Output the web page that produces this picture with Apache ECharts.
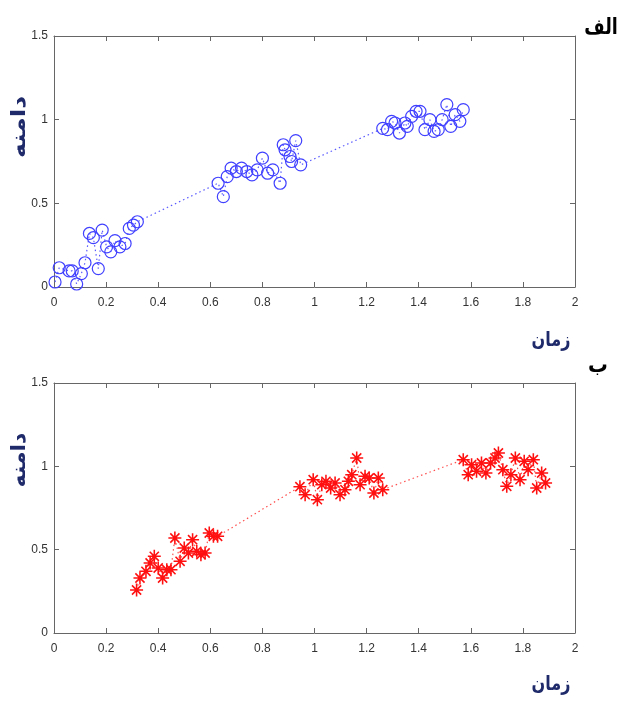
<!DOCTYPE html>
<html><head><meta charset="utf-8">
<script src="https://cdn.jsdelivr.net/npm/echarts@6/dist/echarts.min.js"></script>
<style>html,body{margin:0;padding:0;background:#fff}#c{width:619px;height:707px}</style>
</head><body><div id="c"></div>
<script>
var xTicks = [0, 0.2, 0.4, 0.6, 0.8, 1, 1.2, 1.4, 1.6, 1.8, 2];
var yTicks = [0, 0.5, 1, 1.5];
var topX = [0.004,0.02,0.058,0.07,0.087,0.105,0.119,0.136,0.151,0.17,0.185,0.202,0.218,0.234,0.253,0.273,0.289,0.305,0.32,
  0.63,0.65,0.665,0.68,0.70,0.72,0.74,0.76,0.78,0.80,0.82,0.84,0.868,0.88,0.887,0.906,0.912,0.928,0.947,
  1.262,1.28,1.296,1.309,1.326,1.347,1.356,1.373,1.39,1.405,1.424,1.443,1.459,1.475,1.49,1.508,1.523,1.54,1.558,1.571];
var topY = [0.03,0.115,0.096,0.096,0.018,0.08,0.145,0.32,0.295,0.11,0.34,0.24,0.21,0.277,0.24,0.26,0.35,0.37,0.39,
  0.62,0.54,0.66,0.71,0.69,0.71,0.69,0.67,0.70,0.77,0.68,0.70,0.62,0.85,0.82,0.78,0.75,0.875,0.73,
  0.948,0.94,0.99,0.98,0.92,0.98,0.96,1.02,1.05,1.05,0.94,1.0,0.93,0.94,1.0,1.09,0.96,1.03,0.99,1.06];
var botX = [0.317,0.33,0.353,0.369,0.385,0.40,0.417,0.433,0.449,0.464,0.484,0.50,0.516,0.532,0.548,0.564,0.58,0.596,0.612,0.628,
  0.944,0.964,0.995,1.011,1.028,1.044,1.062,1.079,1.098,1.117,1.13,1.143,1.162,1.175,1.194,1.21,1.228,1.245,1.262,
  1.571,1.59,1.603,1.622,1.641,1.658,1.676,1.693,1.706,1.723,1.738,1.754,1.771,1.789,1.805,1.82,1.84,1.853,1.872,1.887];
var botY = [0.258,0.33,0.37,0.42,0.46,0.39,0.33,0.38,0.38,0.57,0.43,0.51,0.48,0.56,0.49,0.47,0.48,0.60,0.58,0.58,
  0.878,0.83,0.92,0.80,0.89,0.91,0.87,0.90,0.83,0.86,0.91,0.95,1.05,0.89,0.94,0.93,0.84,0.93,0.86,
  1.04,0.95,1.01,0.97,1.02,0.96,1.02,1.05,1.08,0.98,0.88,0.95,1.05,0.92,1.03,0.98,1.04,0.87,0.96,0.90];
var panelLabels = ['الف', 'ب'];
var xName = 'زمان';
var yName = 'دامنه';

function pairs(xs, ys){ return xs.map(function(x,i){ return [x, ys[i]]; }); }
var star = 'path://M-1.2,-10L1.2,-10L1.2,10L-1.2,10Z M-10,-1.2L10,-1.2L10,1.2L-10,1.2Z M-7.9,-6.2L-6.2,-7.9L7.9,6.2L6.2,7.9Z M6.2,-7.9L7.9,-6.2L-6.2,7.9L-7.9,6.2Z';

var axisCol = '#666';
function xAx(grid, pos, show){
  return {type:'value', gridIndex:grid, position:pos, min:0, max:2, interval:0.2,
    axisLine:{show:true, onZero:false, lineStyle:{color:axisCol, width:1}},
    axisTick:{show:true, inside:true, length:5, lineStyle:{color:axisCol}},
    axisLabel:{show:show, margin:10, formatter:function(v){return String(Math.round(v*10)/10);}, color:'#333', fontFamily:'Liberation Sans, Arial', fontSize:12},
    splitLine:{show:false}};
}
function yAx(grid, pos, show){
  return {type:'value', gridIndex:grid, position:pos, min:0, max:1.5, interval:0.5,
    axisLine:{show:true, onZero:false, lineStyle:{color:axisCol, width:1}},
    axisTick:{show:true, inside:true, length:5, lineStyle:{color:axisCol}},
    axisLabel:{show:show, margin:6, formatter:function(v){return String(v);}, color:'#333', fontFamily:'Liberation Sans, Arial', fontSize:12},
    splitLine:{show:false}};
}
var nameFont = 'bold 20px "DejaVu Sans"';
var nameCol = '#1f2a6b';
var chart = echarts.init(document.getElementById('c'), null, {renderer:'canvas'});
chart.setOption({
  animation:false,
  backgroundColor:'#fff',
  grid:[{left:54, width:521, top:36, height:251}, {left:54, width:521, top:383, height:250}],
  xAxis:[xAx(0,'bottom',true), xAx(0,'top',false), xAx(1,'bottom',true), xAx(1,'top',false)],
  yAxis:[yAx(0,'left',true), yAx(0,'right',false), yAx(1,'left',true), yAx(1,'right',false)],
  series:[
    {type:'line', xAxisIndex:0, yAxisIndex:0, data:pairs(topX, topY), symbol:'circle', symbolSize:12,
      itemStyle:{color:'rgba(255,255,255,0)', borderColor:'#4040ff', borderWidth:1.2},
      lineStyle:{color:'#5a5aff', width:1.2, type:[1.5,3]}},
    {type:'line', xAxisIndex:2, yAxisIndex:2, data:pairs(botX, botY), symbol:star, symbolSize:13,
      itemStyle:{color:'#ff1010'},
      lineStyle:{color:'#ff5050', width:1.2, type:[1.5,3]}}
  ],
  graphic:[
    {type:'text', x:601, y:28, scaleX:0.8, style:{text:panelLabels[0], font:'bold 22px "DejaVu Sans"', fill:'#000', align:'center', verticalAlign:'middle'}},
    {type:'text', x:598, y:366, scaleX:0.9, style:{text:panelLabels[1], font:'bold 22px "DejaVu Sans"', fill:'#000', align:'center', verticalAlign:'middle'}},
    {type:'text', x:551, y:341, scaleX:0.8, style:{text:xName, font:nameFont, fill:nameCol, align:'center', verticalAlign:'middle'}},
    {type:'text', x:551, y:685, scaleX:0.8, style:{text:xName, font:nameFont, fill:nameCol, align:'center', verticalAlign:'middle'}},
    {type:'text', x:20, y:127, rotation:Math.PI/2, scaleX:1.25, style:{text:yName, font:nameFont, fill:nameCol, align:'center', verticalAlign:'middle'}},
    {type:'text', x:20, y:460, rotation:Math.PI/2, scaleX:1.1, style:{text:yName, font:nameFont, fill:nameCol, align:'center', verticalAlign:'middle'}}
  ]
});
</script></body></html>
